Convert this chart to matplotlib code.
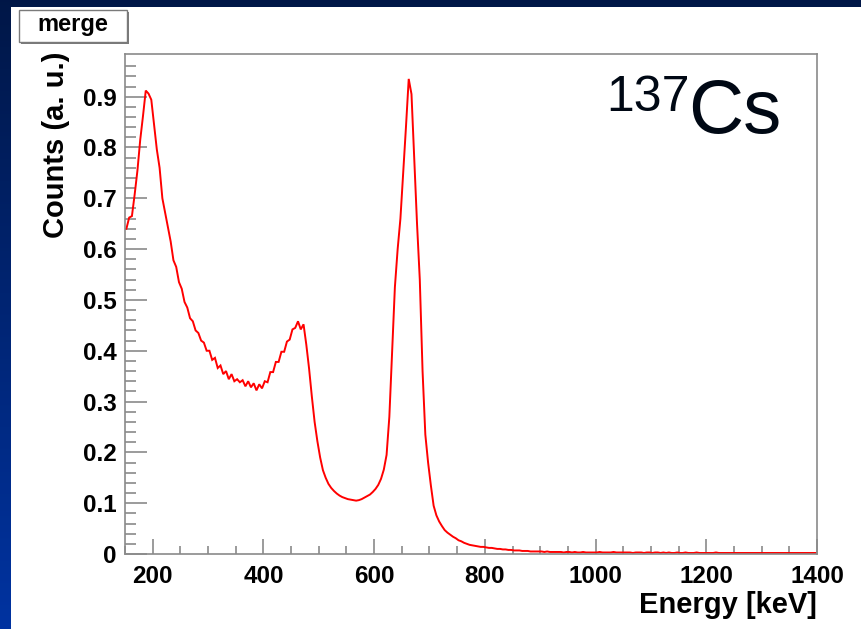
import numpy as np
import matplotlib
matplotlib.use("Agg")
import matplotlib.pyplot as plt
from matplotlib.patches import Rectangle

# ---------------- data (5 keV bins, starting at 150 keV) ----------------
bin_start = 150.0
bin_width = 5.0
counts = [
    # 150-200
    0.640, 0.662, 0.665, 0.708, 0.755, 0.815, 0.862, 0.912, 0.906, 0.894,
    # 200-250
    0.845, 0.796, 0.760, 0.700, 0.672, 0.645, 0.615, 0.578, 0.565, 0.535,
    # 250-300
    0.522, 0.496, 0.485, 0.464, 0.458, 0.440, 0.435, 0.420, 0.416, 0.400,
    # 300-350
    0.400, 0.382, 0.386, 0.366, 0.371, 0.354, 0.360, 0.344, 0.354, 0.340,
    # 350-400
    0.344, 0.338, 0.342, 0.330, 0.340, 0.328, 0.336, 0.322, 0.334, 0.326,
    # 400-450
    0.340, 0.338, 0.358, 0.358, 0.378, 0.378, 0.398, 0.398, 0.418, 0.422,
    # 450-500
    0.442, 0.445, 0.458, 0.442, 0.452, 0.412, 0.365, 0.310, 0.260, 0.222,
    # 500-550
    0.190, 0.165, 0.150, 0.138, 0.130, 0.124, 0.119, 0.115, 0.112, 0.110,
    # 550-600
    0.108, 0.107, 0.106, 0.105, 0.106, 0.108, 0.111, 0.114, 0.117, 0.122,
    # 600-650
    0.128, 0.136, 0.148, 0.166, 0.195, 0.270, 0.400, 0.525, 0.600, 0.660,
    # 650-700
    0.750, 0.840, 0.935, 0.905, 0.780, 0.650, 0.540, 0.360, 0.235, 0.180,
    # 700-750
    0.135, 0.095, 0.076, 0.064, 0.055, 0.047, 0.042, 0.038, 0.034, 0.031,
    # 750-800
    0.027, 0.025, 0.022, 0.020, 0.018, 0.017, 0.016, 0.015, 0.014, 0.014,
    # 800-850
    0.013, 0.012, 0.012, 0.011, 0.010, 0.010, 0.009, 0.009, 0.008, 0.008,
    # 850-900
    0.007, 0.007, 0.007, 0.006, 0.006, 0.006, 0.005, 0.005, 0.005, 0.005,
    # 900-950
    0.005, 0.004, 0.005, 0.004, 0.004, 0.004, 0.004, 0.004, 0.003, 0.004,
    # 950-1000
    0.004, 0.003, 0.004, 0.003, 0.003, 0.004, 0.003, 0.003, 0.003, 0.003,
    # 1000-1050
    0.003, 0.004, 0.003, 0.003, 0.003, 0.003, 0.004, 0.003, 0.003, 0.003,
    # 1050-1100
    0.003, 0.003, 0.003, 0.002, 0.003, 0.003, 0.003, 0.002, 0.003, 0.003,
    # 1100-1150
    0.002, 0.003, 0.003, 0.002, 0.003, 0.002, 0.003, 0.002, 0.002, 0.003,
    # 1150-1200
    0.002, 0.002, 0.003, 0.002, 0.002, 0.002, 0.003, 0.002, 0.002, 0.002,
    # 1200-1250
    0.002, 0.002, 0.002, 0.003, 0.002, 0.002, 0.002, 0.002, 0.002, 0.002,
    # 1250-1300
    0.002, 0.002, 0.002, 0.002, 0.002, 0.002, 0.002, 0.002, 0.002, 0.002,
    # 1300-1350
    0.002, 0.002, 0.002, 0.002, 0.002, 0.002, 0.002, 0.002, 0.002, 0.002,
    # 1350-1400
    0.002, 0.002, 0.002, 0.002, 0.002, 0.002, 0.002, 0.002, 0.002, 0.002,
]
x_ticks = [200, 400, 600, 800, 1000, 1200, 1400]
y_ticks = [0, 0.1, 0.2, 0.3, 0.4, 0.5, 0.6, 0.7, 0.8, 0.9]
y_tick_labels = ["0", "0.1", "0.2", "0.3", "0.4", "0.5", "0.6", "0.7", "0.8", "0.9"]
title_box = "merge"
x_label = "Energy [keV]"
y_label = "Counts (a. u.)"
isotope_mass = "137"
isotope_symbol = "Cs"

# ---------------- figure ----------------
W, H = 862, 629
fig = plt.figure(figsize=(W / 100, H / 100), dpi=100)
plt.rcParams['font.family'] = ['Liberation Sans', 'DejaVu Sans']

# background gradient (slide)
bg = fig.add_axes([0, 0, 1, 1], zorder=-10)
grad = np.linspace(0, 1, 256).reshape(-1, 1)
top_col = np.array([0.0, 0.09, 0.28])
bot_col = np.array([0.0, 0.20, 0.63])
img = top_col[None, None, :] * (1 - grad[:, :, None]) + bot_col[None, None, :] * grad[:, :, None]
bg.imshow(img, aspect='auto', extent=[0, 1, 0, 1], origin='upper')
bg.add_patch(Rectangle((11 / W, 0), 1 - 11 / W, 1 - 7 / H, facecolor='white',
                       edgecolor='none'))
bg.set_xlim(0, 1)
bg.set_ylim(0, 1)
bg.axis('off')

# main axes
left, right = 125 / W, 817 / W
bottom, top = (H - 554) / H, (H - 54) / H
ax = fig.add_axes([left, bottom, right - left, top - bottom])

centers = bin_start + bin_width * (np.arange(len(counts)) + 0.5)
xs = np.concatenate([[bin_start], centers])
ys = np.concatenate([[counts[0]], counts])
ax.plot(xs, ys, color='#ff0000', linewidth=1.4, solid_joinstyle='miter')

ax.set_xlim(150, 1400)
ax.set_ylim(0, 0.984)

grey = '#8a8a8a'
for s in ax.spines.values():
    s.set_color(grey)
    s.set_linewidth(1.2)

ax.set_xticks(x_ticks)
ax.set_xticks(np.arange(150, 1401, 50), minor=True)
ax.set_yticks(y_ticks)
ax.set_yticklabels(y_tick_labels)
ax.set_yticks(np.arange(0, 0.98, 0.02), minor=True)

ax.tick_params(axis='x', which='major', direction='in', length=11, width=1.2,
               color=grey, labelsize=17.5, pad=8)
ax.tick_params(axis='x', which='minor', direction='in', length=6, width=1.2,
               color=grey)
ax.tick_params(axis='y', which='major', direction='in', length=16, width=1.2,
               color=grey, labelsize=17.5, pad=6)
ax.tick_params(axis='y', which='minor', direction='in', length=8, width=1.2,
               color=grey)
for lab in ax.get_xticklabels() + ax.get_yticklabels():
    lab.set_fontweight('bold')

fig.text(817 / W, 1 - 605 / H, x_label, ha='right', va='center',
         fontsize=21, fontweight='bold')
fig.text(56 / W, 1 - 52 / H, y_label, ha='center', va='top', rotation=90,
         fontsize=21, fontweight='bold')

# title box
bg.add_patch(Rectangle((21 / W, 1 - 44 / H), 108 / W, 32 / H, facecolor='#7a7a7a',
                       edgecolor='none', zorder=1))
bg.add_patch(Rectangle((19 / W, 1 - 42 / H), 108 / W, 32 / H, facecolor='white',
                       edgecolor='#7a7a7a', linewidth=1.0, zorder=2))
fig.text(73 / W, 1 - 25 / H, title_box, ha='center', va='center', fontsize=17,
         fontweight='bold')

# isotope label
fig.text(690 / W, 1 - 75 / H, isotope_mass, ha='right', va='top', fontsize=36,
         color='#000814')
fig.text(688 / W, 1 - 133 / H, isotope_symbol, ha='left', va='baseline',
         fontsize=55, color='#000814')

fig.savefig('out.png', dpi=100)
